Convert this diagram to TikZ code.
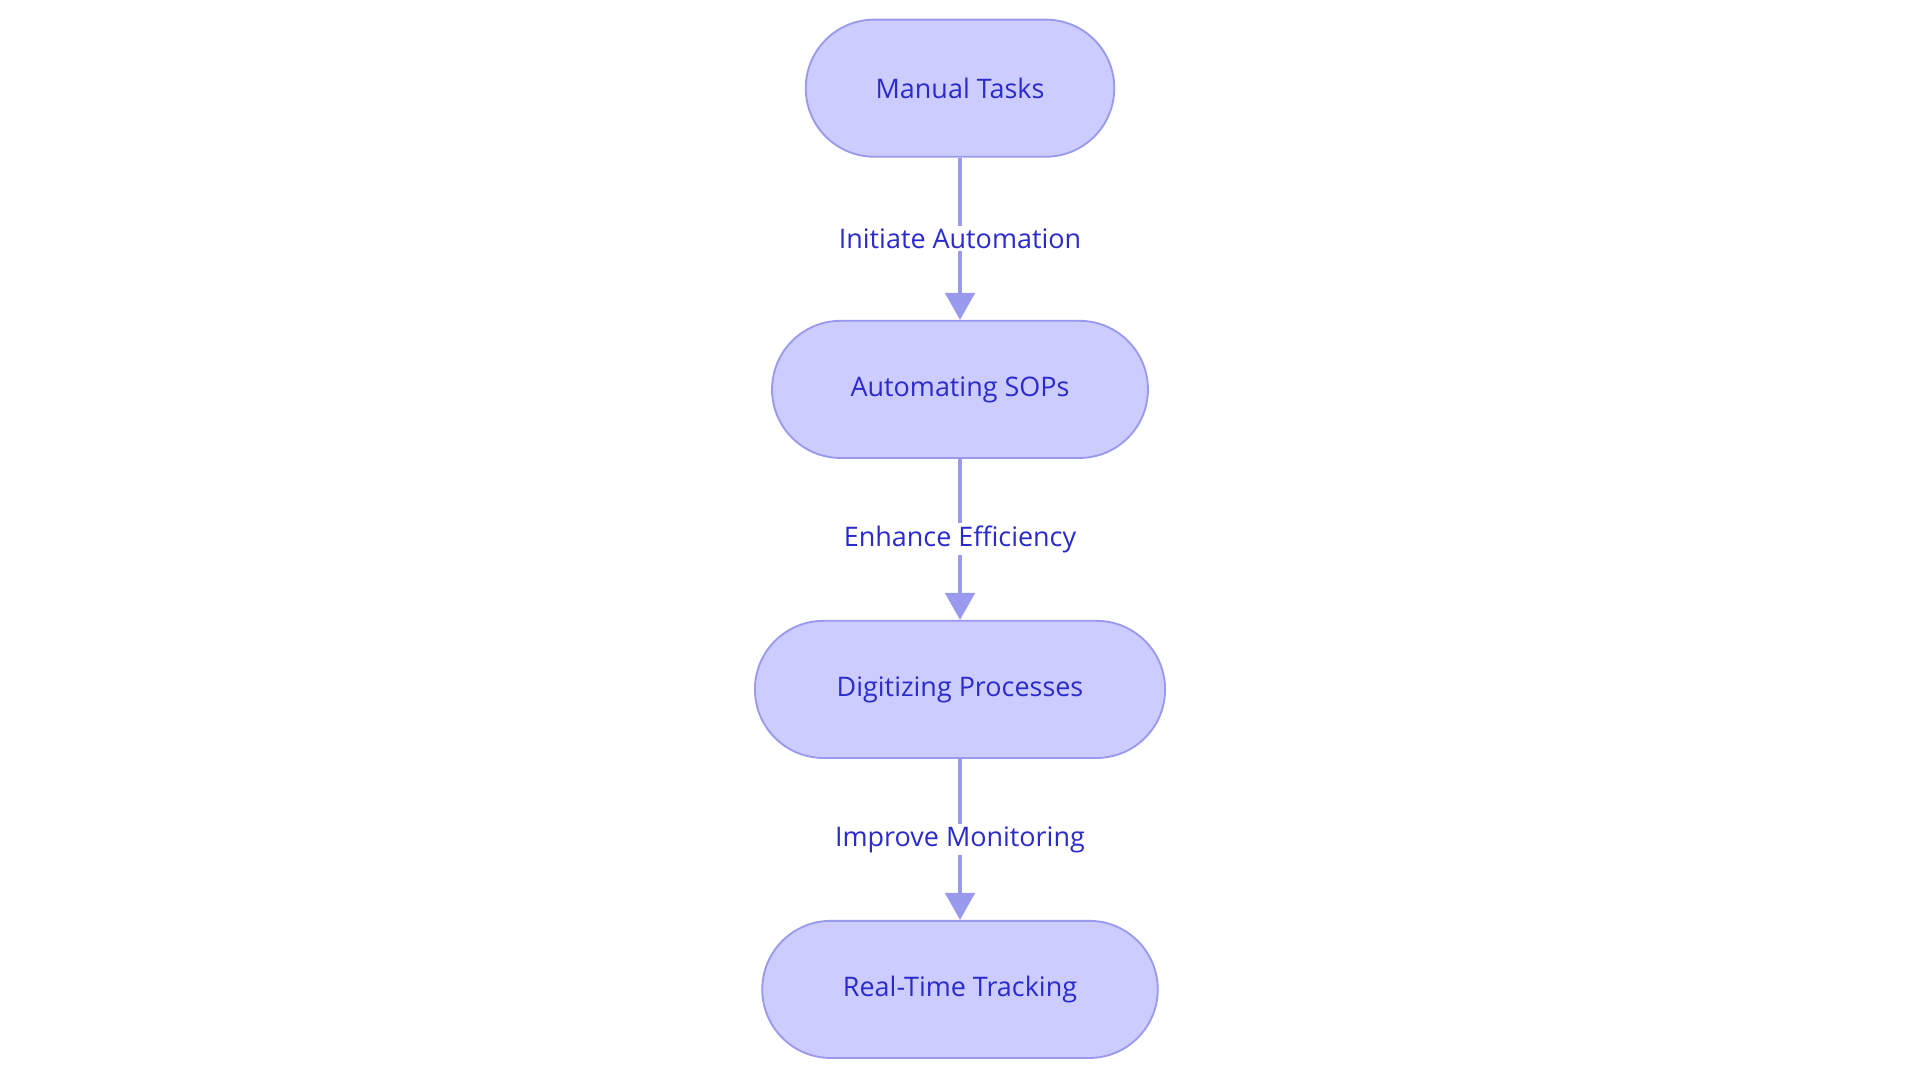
\documentclass[tikz,border=0pt]{standalone}
\usepackage{fontspec}
\setmainfont{Open Sans}
\usetikzlibrary{arrows.meta}
\definecolor{nfill}{HTML}{CCCCFF}
\definecolor{nline}{HTML}{9999EE}
\definecolor{ntext}{HTML}{2B2BCC}
\tikzset{
  pill/.style={draw=nline,line width=1.5pt,fill=nfill,rounded corners=56pt,minimum height=112pt,text=ntext,font=\fontsize{22}{26}\selectfont},
  conn/.style={draw=nline,line width=3pt,-{Triangle[length=22pt,width=24pt]}},
  lab/.style={fill=white,text=ntext,font=\fontsize{22}{26}\selectfont,inner sep=2pt}
}
\begin{document}
\begin{tikzpicture}[x=1pt,y=-1pt]
\useasboundingbox (0,0) rectangle (1568,884);
\node[pill,minimum width=252pt] (a) at (784,72) {Manual Tasks};
\node[pill,minimum width=307pt] (b) at (784,318) {Automating SOPs};
\node[pill,minimum width=335pt] (c) at (784,563) {Digitizing Processes};
\node[pill,minimum width=323pt] (d) at (784,808) {Real-Time Tracking};
\draw[conn] (a) -- node[lab,pos=0.5] {Initiate Automation} (b);
\draw[conn] (b) -- node[lab,pos=0.5] {Enhance Efficiency} (c);
\draw[conn] (c) -- node[lab,pos=0.5] {Improve Monitoring} (d);
\end{tikzpicture}
\end{document}
